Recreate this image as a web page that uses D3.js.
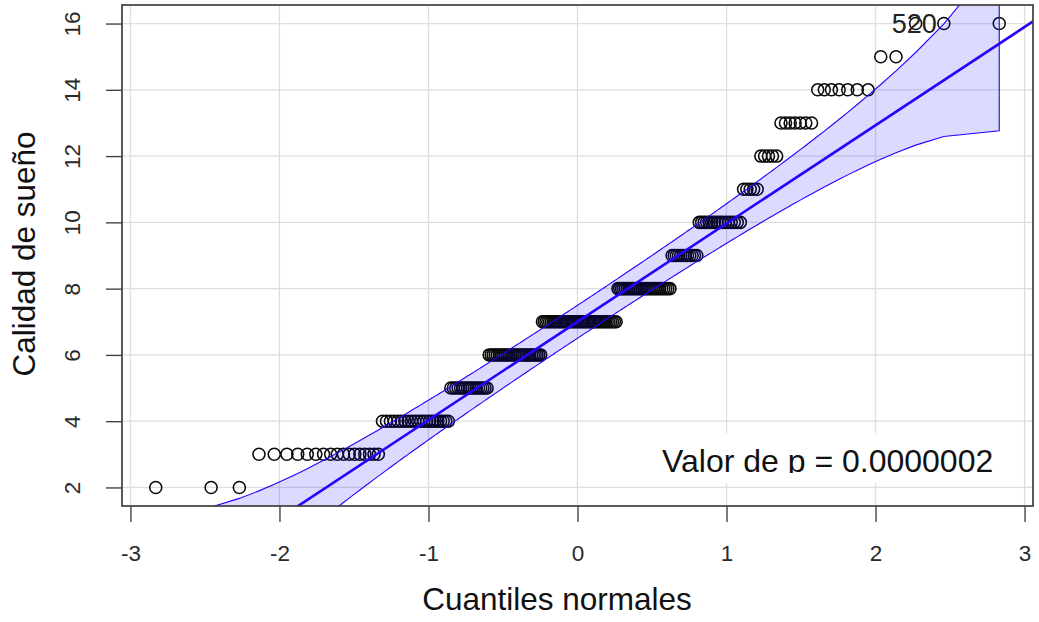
<!DOCTYPE html>
<html>
<head>
<meta charset="utf-8">
<script src="https://cdn.jsdelivr.net/npm/d3@7"></script>
<style>
  html, body { margin: 0; padding: 0; background: #fff; }
  svg { display: block; font-family: "Liberation Sans", Arial, sans-serif; }
</style>
</head>
<body>
<svg id="chart" width="1039" height="622"></svg>
<script>
// Sleep quality scores (sorted sample) and how many times each occurs
const sleepScores = [2, 3, 4, 5, 6, 7, 8, 9, 10, 11, 12, 13, 14, 15, 16];
const scoreCounts = [3, 17, 22, 17, 28, 43, 28, 12, 16, 5, 5, 7, 7, 2, 3];

// Axis ticks
const xTicks = [-3, -2, -1, 0, 1, 2, 3];
const yTicks = [2, 4, 6, 8, 10, 12, 14, 16];

// Identified observation (rank in the sorted sample, 1-based) and its id
const idRanks = [214];
const idLabels = ["520"];

const confLevel = 0.95;
const pValueText = "Valor de p = 0.0000002";
const xTitle = "Cuantiles normales";
const yTitle = "Calidad de sueño";

// ---- normal distribution helpers ----
function qnorm(p) {
  const a = [-3.969683028665376e+01, 2.209460984245205e+02, -2.759285104469687e+02,
             1.383577518672690e+02, -3.066479806614716e+01, 2.506628277459239e+00];
  const b = [-5.447609879822406e+01, 1.615858368580409e+02, -1.556989798598866e+02,
             6.680131188771972e+01, -1.328068155288572e+01];
  const c = [-7.784894002430293e-03, -3.223964580411365e-01, -2.400758277161838e+00,
             -2.549732539343734e+00, 4.374664141464968e+00, 2.938163982698783e+00];
  const d = [7.784695709041462e-03, 3.224671290700398e-01, 2.445134137142996e+00,
             3.754408661907416e+00];
  const pl = 0.02425, ph = 1 - pl;
  let q, r;
  if (p < pl) {
    q = Math.sqrt(-2 * Math.log(p));
    return (((((c[0]*q+c[1])*q+c[2])*q+c[3])*q+c[4])*q+c[5]) /
           ((((d[0]*q+d[1])*q+d[2])*q+d[3])*q+1);
  } else if (p <= ph) {
    q = p - 0.5; r = q * q;
    return (((((a[0]*r+a[1])*r+a[2])*r+a[3])*r+a[4])*r+a[5])*q /
           (((((b[0]*r+b[1])*r+b[2])*r+b[3])*r+b[4])*r+1);
  } else {
    q = Math.sqrt(-2 * Math.log(1 - p));
    return -(((((c[0]*q+c[1])*q+c[2])*q+c[3])*q+c[4])*q+c[5]) /
            ((((d[0]*q+d[1])*q+d[2])*q+d[3])*q+1);
  }
}
const dnorm = z => Math.exp(-z * z / 2) / Math.sqrt(2 * Math.PI);

// ---- sample and theoretical quantiles ----
const sample = [];
sleepScores.forEach((v, i) => { for (let k = 0; k < scoreCounts[i]; k++) sample.push(v); });
const n = sample.length;
const probs = sample.map((_, i) => (i + 0.5) / n);   // ppoints for n > 10
const zq = probs.map(qnorm);
const points = sample.map((y, i) => ({ z: zq[i], y, p: probs[i] }));

// Reference line through the quartiles
const q1 = d3.quantileSorted(sample, 0.25), q3 = d3.quantileSorted(sample, 0.75);
const slope = (q3 - q1) / (qnorm(0.75) - qnorm(0.25));
const intercept = q1 - slope * qnorm(0.25);

// Pointwise confidence envelope
const zz = qnorm(1 - (1 - confLevel) / 2);
const env = points.map(d => {
  const se = (slope / dnorm(d.z)) * Math.sqrt(d.p * (1 - d.p) / n);
  const fit = intercept + slope * d.z;
  return { z: d.z, upper: fit + zz * se, lower: fit - zz * se };
});

// ---- layout ----
const plot = { left: 122, right: 1033, top: 5, bottom: 506 };
const pad = (lo, hi) => { const r = hi - lo; return [lo - 0.04 * r, hi + 0.04 * r]; };
const x = d3.scaleLinear().domain(pad(d3.min(zq), d3.max(zq))).range([plot.left, plot.right]);
const y = d3.scaleLinear().domain(pad(d3.min(sample), d3.max(sample))).range([plot.bottom, plot.top]);

const svg = d3.select("#chart");
svg.append("defs").append("clipPath").attr("id", "plotClip")
  .append("rect").attr("x", plot.left).attr("y", plot.top)
  .attr("width", plot.right - plot.left).attr("height", plot.bottom - plot.top);

// Grid
const grid = svg.append("g").attr("stroke", "#dedede").attr("stroke-width", 1.3);
grid.selectAll("line.gx").data(xTicks).join("line")
  .attr("x1", d => x(d)).attr("x2", d => x(d))
  .attr("y1", plot.top).attr("y2", plot.bottom);
grid.selectAll("line.gy").data(yTicks).join("line")
  .attr("y1", d => y(d)).attr("y2", d => y(d))
  .attr("x1", plot.left).attr("x2", plot.right);

const inner = svg.append("g").attr("clip-path", "url(#plotClip)");

// Observed points
inner.append("g").selectAll("circle").data(points).join("circle")
  .attr("cx", d => x(d.z)).attr("cy", d => y(d.y)).attr("r", 6)
  .attr("fill", "none").attr("stroke", "#0a0a0a").attr("stroke-width", 1.55);

// Envelope
const envPts = env.map(d => [x(d.z), y(d.upper)])
  .concat(env.slice().reverse().map(d => [x(d.z), y(d.lower)]));
inner.append("path")
  .attr("d", "M" + envPts.map(p => p.join(",")).join("L") + "Z")
  .attr("fill", "rgba(0,0,255,0.14)")
  .attr("stroke", "#2a00ff").attr("stroke-width", 1.1);

// Reference line
const [zx0, zx1] = x.domain();
inner.append("line")
  .attr("x1", x(zx0)).attr("y1", y(intercept + slope * zx0))
  .attr("x2", x(zx1)).attr("y2", y(intercept + slope * zx1))
  .attr("stroke", "#2a00ff").attr("stroke-width", 2.6);

// Identified point labels
idRanks.forEach((r, i) => {
  const d = points[r - 1];
  svg.append("text")
    .attr("x", x(d.z) - 7).attr("y", y(d.y) + 9.5)
    .attr("text-anchor", "end").attr("font-size", 27).attr("fill", "#222")
    .text(idLabels[i]);
});

// p-value legend on a white background
svg.append("defs").append("clipPath").attr("id", "legClip")
  .append("rect").attr("x", 640).attr("y", 420).attr("width", 380).attr("height", 53);
svg.append("rect").attr("x", 645).attr("y", 433).attr("width", 365).attr("height", 50)
  .attr("fill", "#fff");
svg.append("text").attr("clip-path", "url(#legClip)")
  .attr("x", 662).attr("y", 471.5).attr("font-size", 32).attr("fill", "#111")
  .text(pValueText);

// Box
svg.append("rect").attr("x", plot.left).attr("y", plot.top)
  .attr("width", plot.right - plot.left).attr("height", plot.bottom - plot.top)
  .attr("fill", "none").attr("stroke", "#333").attr("stroke-width", 1.6);

// Axes
const xAxis = svg.append("g").attr("transform", `translate(0,${plot.bottom})`)
  .call(d3.axisBottom(x).tickValues(xTicks).tickSize(16).tickPadding(23)
    .tickFormat(d => d < 0 ? "-" + Math.abs(d) : String(d)));
const yAxis = svg.append("g").attr("transform", `translate(${plot.left},0)`)
  .call(d3.axisLeft(y).tickValues(yTicks).tickSize(16).tickPadding(9));
[xAxis, yAxis].forEach(g => {
  g.select(".domain").remove();
  g.selectAll(".tick line").attr("stroke", "#444").attr("stroke-width", 1.4);
  g.selectAll(".tick text").attr("fill", "#2a2a2a").attr("font-size", 22.5)
    .attr("font-family", "'Liberation Sans', Arial, sans-serif");
});
xAxis.selectAll(".tick text").attr("dy", "0.71em");
yAxis.selectAll(".tick text")
  .attr("text-anchor", "middle").attr("dy", 0).attr("x", 0)
  .attr("transform", d => `translate(-42,0) rotate(-90)`);

// Axis titles
svg.append("text").attr("x", 557).attr("y", 610).attr("text-anchor", "middle")
  .attr("font-size", 31.5).attr("fill", "#111").text(xTitle);
svg.append("text").attr("transform", "translate(35,254) rotate(-90)")
  .attr("text-anchor", "middle").attr("font-size", 31.5).attr("fill", "#111").text(yTitle);
</script>
</body>
</html>
